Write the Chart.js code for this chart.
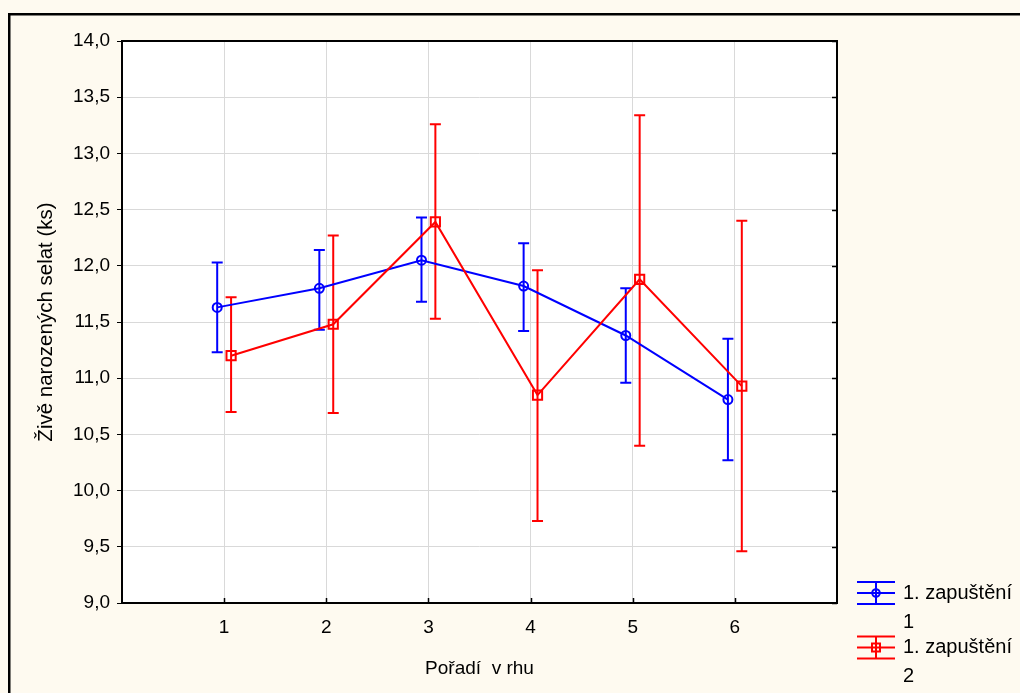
<!DOCTYPE html>
<html>
<head>
<meta charset="utf-8">
<script src="https://cdn.jsdelivr.net/npm/chart.js@4.4.0/dist/chart.umd.min.js"></script>
<style>
  html, body { margin: 0; padding: 0; background: #fefaf0; }
</style>
</head>
<body>
<canvas id="chart" width="1020" height="693"></canvas>
<script>
// values
const categories = [1, 2, 3, 4, 5, 6];
const yTicks = [9.0, 9.5, 10.0, 10.5, 11.0, 11.5, 12.0, 12.5, 13.0, 13.5, 14.0];

const run1Mean  = [11.63, 11.80, 12.05, 11.82, 11.38, 10.81];
const run1Upper = [12.03, 12.14, 12.43, 12.20, 11.80, 11.35];
const run1Lower = [11.23, 11.43, 11.68, 11.42, 10.96, 10.27];

const run2Mean  = [11.20, 11.48, 12.39, 10.85, 11.88, 10.93];
const run2Upper = [11.72, 12.27, 13.26, 11.96, 13.34, 12.40];
const run2Lower = [10.70, 10.69, 11.53, 9.73, 10.40, 9.46];

const seriesNames = [["1. zapuštění", "1"], ["1. zapuštění", "2"]];
const xTitle = "Pořadí  v rhu";
const yTitle = "Živě narozených selat (ks)";

const BLUE = "#0000ff";
const RED = "#ff0000";
const SHIFT = 0.068; // the two series sit a little left / right of each category

Chart.defaults.font.family = '"Liberation Sans", Arial, sans-serif';
Chart.defaults.font.size = 19;
Chart.defaults.color = "#000";

function points(means, dx) {
  return categories.map((c, i) => ({ x: c + dx, y: means[i] }));
}

// cream page, outer frame and the white plot area
const backdrop = {
  id: "backdrop",
  beforeDraw(chart) {
    const { ctx, chartArea: a } = chart;
    ctx.save();
    ctx.fillStyle = "#fefaf0";
    ctx.fillRect(0, 0, chart.width, chart.height);
    ctx.strokeStyle = "#000";
    ctx.lineWidth = 2.5;
    ctx.strokeRect(9.25, 14.25, chart.width + 20, chart.height + 20);
    ctx.fillStyle = "#fff";
    ctx.fillRect(a.left, a.top, a.right - a.left, a.bottom - a.top);
    ctx.restore();
  },
  afterDraw(chart) {
    const { ctx, chartArea: a, scales } = chart;
    ctx.save();
    ctx.strokeStyle = "#000";
    ctx.lineWidth = 2;
    ctx.strokeRect(a.left, a.top, a.right - a.left, a.bottom - a.top);
    ctx.lineWidth = 1.5;
    ctx.beginPath();
    yTicks.forEach(v => {
      const y = Math.round(scales.y.getPixelForValue(v)) + 0.5;
      ctx.moveTo(a.right - 5, y);
      ctx.lineTo(a.right, y);
    });
    categories.forEach(c => {
      const x = Math.round(scales.x.getPixelForValue(c)) + 0.5;
      ctx.moveTo(x, a.bottom - 5);
      ctx.lineTo(x, a.bottom);
    });
    ctx.stroke();
    ctx.restore();
  }
};

// whiskers from the upper / lower arrays
const errorBars = {
  id: "errorBars",
  beforeDatasetsDraw(chart) {
    const { ctx, scales } = chart;
    ctx.save();
    chart.data.datasets.forEach(ds => {
      ctx.strokeStyle = ds.borderColor;
      ctx.lineWidth = 2;
      ds.data.forEach((p, i) => {
        const x = scales.x.getPixelForValue(p.x);
        const yt = scales.y.getPixelForValue(ds.upper[i]);
        const yb = scales.y.getPixelForValue(ds.lower[i]);
        ctx.beginPath();
        ctx.moveTo(x, yt); ctx.lineTo(x, yb);
        ctx.moveTo(x - 5.5, yt); ctx.lineTo(x + 5.5, yt);
        ctx.moveTo(x - 5.5, yb); ctx.lineTo(x + 5.5, yb);
        ctx.stroke();
      });
    });
    ctx.restore();
  }
};

// legend at the lower right, with the wrapped label
const sideLegend = {
  id: "sideLegend",
  afterDraw(chart) {
    const { ctx } = chart;
    ctx.save();
    ctx.font = '20px "Liberation Sans", Arial, sans-serif';
    ctx.textBaseline = "middle";
    ctx.fillStyle = "#000";
    chart.data.datasets.forEach((ds, k) => {
      const cy = 593 + k * 54.5;
      const cx = 876;
      ctx.strokeStyle = ds.borderColor;
      ctx.lineWidth = 2;
      ctx.beginPath();
      [-11, 0, 11].forEach(d => { ctx.moveTo(857, cy + d); ctx.lineTo(895, cy + d); });
      ctx.moveTo(cx, cy - 11); ctx.lineTo(cx, cy + 11);
      ctx.stroke();
      ctx.beginPath();
      if (ds.pointStyle === "circle") ctx.arc(cx, cy, 3.8, 0, Math.PI * 2);
      else ctx.rect(cx - 4, cy - 4, 8, 8);
      ctx.stroke();
      const lines = seriesNames[k];
      ctx.fillText(lines[0], 903, cy);
      ctx.fillText(lines[1], 903, cy + 29);
    });
    ctx.restore();
  }
};

new Chart(document.getElementById("chart"), {
  type: "line",
  data: {
    datasets: [
      {
        data: points(run1Mean, -SHIFT),
        upper: run1Upper,
        lower: run1Lower,
        borderColor: BLUE,
        backgroundColor: "rgba(0,0,0,0)",
        borderWidth: 2,
        pointStyle: "circle",
        pointRadius: 4.5,
        pointBorderWidth: 2,
        order: 1
      },
      {
        data: points(run2Mean, SHIFT),
        upper: run2Upper,
        lower: run2Lower,
        borderColor: RED,
        backgroundColor: "rgba(0,0,0,0)",
        borderWidth: 2,
        pointStyle: "rect",
        pointRadius: 6.5,
        pointBorderWidth: 2,
        order: 0
      }
    ]
  },
  options: {
    responsive: false,
    animation: false,
    layout: { padding: { left: 0, top: 41, right: 183, bottom: 0 } },
    plugins: { legend: { display: false }, tooltip: { enabled: false } },
    scales: {
      x: {
        type: "linear",
        min: 0,
        max: 7,
        afterBuildTicks: s => { s.ticks = categories.map(v => ({ value: v })); },
        afterFit: s => { s.height = 90; },
        ticks: { padding: 13, callback: v => String(v) },
        grid: { color: "#d9d9d9", drawTicks: false },
        border: { display: false },
        title: { display: true, text: xTitle, padding: { top: 0, bottom: 13 } }
      },
      y: {
        min: 9,
        max: 14,
        afterBuildTicks: s => { s.ticks = yTicks.map(v => ({ value: v })); },
        afterFit: s => { s.width = 122; },
        ticks: { padding: 7, callback: v => v.toFixed(1).replace(".", ",") },
        grid: { color: "#d9d9d9", tickColor: "#000", tickLength: 5 },
        border: { display: false },
        title: { display: true, text: yTitle, font: { size: 20.5 }, padding: { top: 34, bottom: 0 } }
      }
    }
  },
  plugins: [backdrop, errorBars, sideLegend]
});
</script>
</body>
</html>
